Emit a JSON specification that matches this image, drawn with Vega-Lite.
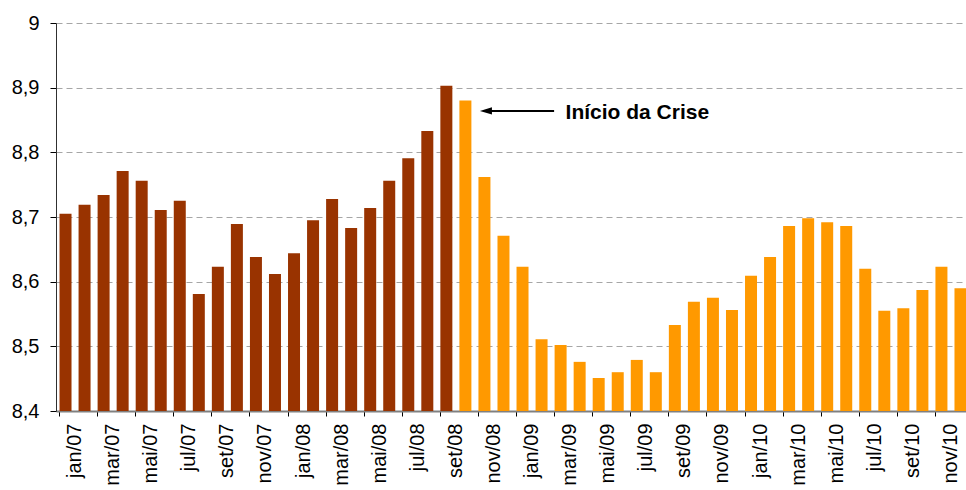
{
  "$schema": "https://vega.github.io/schema/vega-lite/v6.json",
  "width": 910,
  "height": 388,
  "autosize": "none",
  "padding": {"left": 56, "top": 23, "right": 0, "bottom": 79},
  "background": "white",
  "config": {
    "font": "Liberation Sans",
    "view": {"stroke": null}
  },
  "title": {
    "text": "(dessazonalizado)",
    "fontSize": 17,
    "fontWeight": "bold",
    "font": "Liberation Sans",
    "color": "black",
    "anchor": "middle",
    "dx": -12,
    "offset": 22,
    "baseline": "alphabetic"
  },
  "datasets": {
    "serie": [
      {"mes": "jan/07", "valor": 8.705, "fase": "Antes"},
      {"mes": "fev/07", "valor": 8.719, "fase": "Antes"},
      {"mes": "mar/07", "valor": 8.734, "fase": "Antes"},
      {"mes": "abr/07", "valor": 8.771, "fase": "Antes"},
      {"mes": "mai/07", "valor": 8.756, "fase": "Antes"},
      {"mes": "jun/07", "valor": 8.711, "fase": "Antes"},
      {"mes": "jul/07", "valor": 8.725, "fase": "Antes"},
      {"mes": "ago/07", "valor": 8.581, "fase": "Antes"},
      {"mes": "set/07", "valor": 8.623, "fase": "Antes"},
      {"mes": "out/07", "valor": 8.689, "fase": "Antes"},
      {"mes": "nov/07", "valor": 8.638, "fase": "Antes"},
      {"mes": "dez/07", "valor": 8.612, "fase": "Antes"},
      {"mes": "jan/08", "valor": 8.644, "fase": "Antes"},
      {"mes": "fev/08", "valor": 8.695, "fase": "Antes"},
      {"mes": "mar/08", "valor": 8.728, "fase": "Antes"},
      {"mes": "abr/08", "valor": 8.683, "fase": "Antes"},
      {"mes": "mai/08", "valor": 8.714, "fase": "Antes"},
      {"mes": "jun/08", "valor": 8.756, "fase": "Antes"},
      {"mes": "jul/08", "valor": 8.791, "fase": "Antes"},
      {"mes": "ago/08", "valor": 8.833, "fase": "Antes"},
      {"mes": "set/08", "valor": 8.903, "fase": "Antes"},
      {"mes": "out/08", "valor": 8.880, "fase": "Crise"},
      {"mes": "nov/08", "valor": 8.762, "fase": "Crise"},
      {"mes": "dez/08", "valor": 8.671, "fase": "Crise"},
      {"mes": "jan/09", "valor": 8.623, "fase": "Crise"},
      {"mes": "fev/09", "valor": 8.511, "fase": "Crise"},
      {"mes": "mar/09", "valor": 8.502, "fase": "Crise"},
      {"mes": "abr/09", "valor": 8.476, "fase": "Crise"},
      {"mes": "mai/09", "valor": 8.451, "fase": "Crise"},
      {"mes": "jun/09", "valor": 8.460, "fase": "Crise"},
      {"mes": "jul/09", "valor": 8.479, "fase": "Crise"},
      {"mes": "ago/09", "valor": 8.460, "fase": "Crise"},
      {"mes": "set/09", "valor": 8.533, "fase": "Crise"},
      {"mes": "out/09", "valor": 8.569, "fase": "Crise"},
      {"mes": "nov/09", "valor": 8.575, "fase": "Crise"},
      {"mes": "dez/09", "valor": 8.556, "fase": "Crise"},
      {"mes": "jan/10", "valor": 8.609, "fase": "Crise"},
      {"mes": "fev/10", "valor": 8.638, "fase": "Crise"},
      {"mes": "mar/10", "valor": 8.686, "fase": "Crise"},
      {"mes": "abr/10", "valor": 8.698, "fase": "Crise"},
      {"mes": "mai/10", "valor": 8.692, "fase": "Crise"},
      {"mes": "jun/10", "valor": 8.686, "fase": "Crise"},
      {"mes": "jul/10", "valor": 8.620, "fase": "Crise"},
      {"mes": "ago/10", "valor": 8.555, "fase": "Crise"},
      {"mes": "set/10", "valor": 8.559, "fase": "Crise"},
      {"mes": "out/10", "valor": 8.587, "fase": "Crise"},
      {"mes": "nov/10", "valor": 8.623, "fase": "Crise"},
      {"mes": "dez/10", "valor": 8.590, "fase": "Crise"}
    ],
    "nota": [
      {"inicio": "nov/08", "fim": "mar/09", "valor": 8.864, "rotulo": "Início da Crise"}
    ]
  },
  "layer": [
    {
      "data": {"name": "serie"},
      "mark": {"type": "bar"},
      "encoding": {
        "x": {
          "field": "mes",
          "type": "ordinal",
          "sort": null,
          "scale": {"range": [0, 914], "paddingInner": 0.37, "paddingOuter": 0.185},
          "axis": {
            "title": null,
            "values": ["jan/07","mar/07","mai/07","jul/07","set/07","nov/07","jan/08","mar/08","mai/08","jul/08","set/08","nov/08","jan/09","mar/09","mai/09","jul/09","set/09","nov/09","jan/10","mar/10","mai/10","jul/10","set/10","nov/10"],
            "bandPosition": 0,
            "labelOffset": 9.5,
            "labelAngle": -90,
            "labelAlign": "right",
            "labelBaseline": "middle",
            "labelFontSize": 20,
            "labelColor": "black",
            "labelPadding": 7,
            "tickSize": 5,
            "tickColor": "black",
            "domainColor": "#808080",
            "domainWidth": 2,
            "grid": false
          }
        },
        "y": {
          "field": "valor",
          "type": "quantitative",
          "scale": {"domain": [8.4, 9], "zero": false, "nice": false},
          "axis": {
            "title": null,
            "values": [8.4, 8.5, 8.6, 8.7, 8.8, 8.9, 9],
            "labelExpr": "replace(format(datum.value, '.2~f'), '.', ',')",
            "labelFontSize": 20,
            "labelColor": "black",
            "labelPadding": 11,
            "tickSize": 6,
            "tickColor": "black",
            "domainColor": "#303030",
            "grid": true,
            "gridColor": "#a6a6a6",
            "gridDash": [6, 4],
            "gridWidth": 1
          }
        },
        "y2": {"datum": 8.4},
        "color": {
          "field": "fase",
          "type": "nominal",
          "scale": {"domain": ["Antes", "Crise"], "range": ["#993300", "#FF9900"]},
          "legend": null
        }
      }
    },
    {
      "data": {"name": "nota"},
      "mark": {"type": "rule", "color": "black", "strokeWidth": 2, "xOffset": 4, "x2Offset": -6.5},
      "encoding": {
        "x": {"field": "inicio", "type": "ordinal", "sort": null},
        "x2": {"field": "fim"},
        "y": {"field": "valor", "type": "quantitative"}
      }
    },
    {
      "data": {"name": "nota"},
      "mark": {"type": "point", "shape": "M-1,0L1,-0.6L1,0.6Z", "size": 144, "filled": true, "color": "black", "opacity": 1, "xOffset": 1.5},
      "encoding": {
        "x": {"field": "inicio", "type": "ordinal", "sort": null},
        "y": {"field": "valor", "type": "quantitative"}
      }
    },
    {
      "data": {"name": "nota"},
      "mark": {"type": "text", "align": "left", "baseline": "alphabetic", "dx": 5, "dy": 8, "fontSize": 21, "fontWeight": "bold", "color": "black"},
      "encoding": {
        "x": {"field": "fim", "type": "ordinal", "sort": null},
        "y": {"field": "valor", "type": "quantitative"},
        "text": {"field": "rotulo"}
      }
    }
  ]
}
